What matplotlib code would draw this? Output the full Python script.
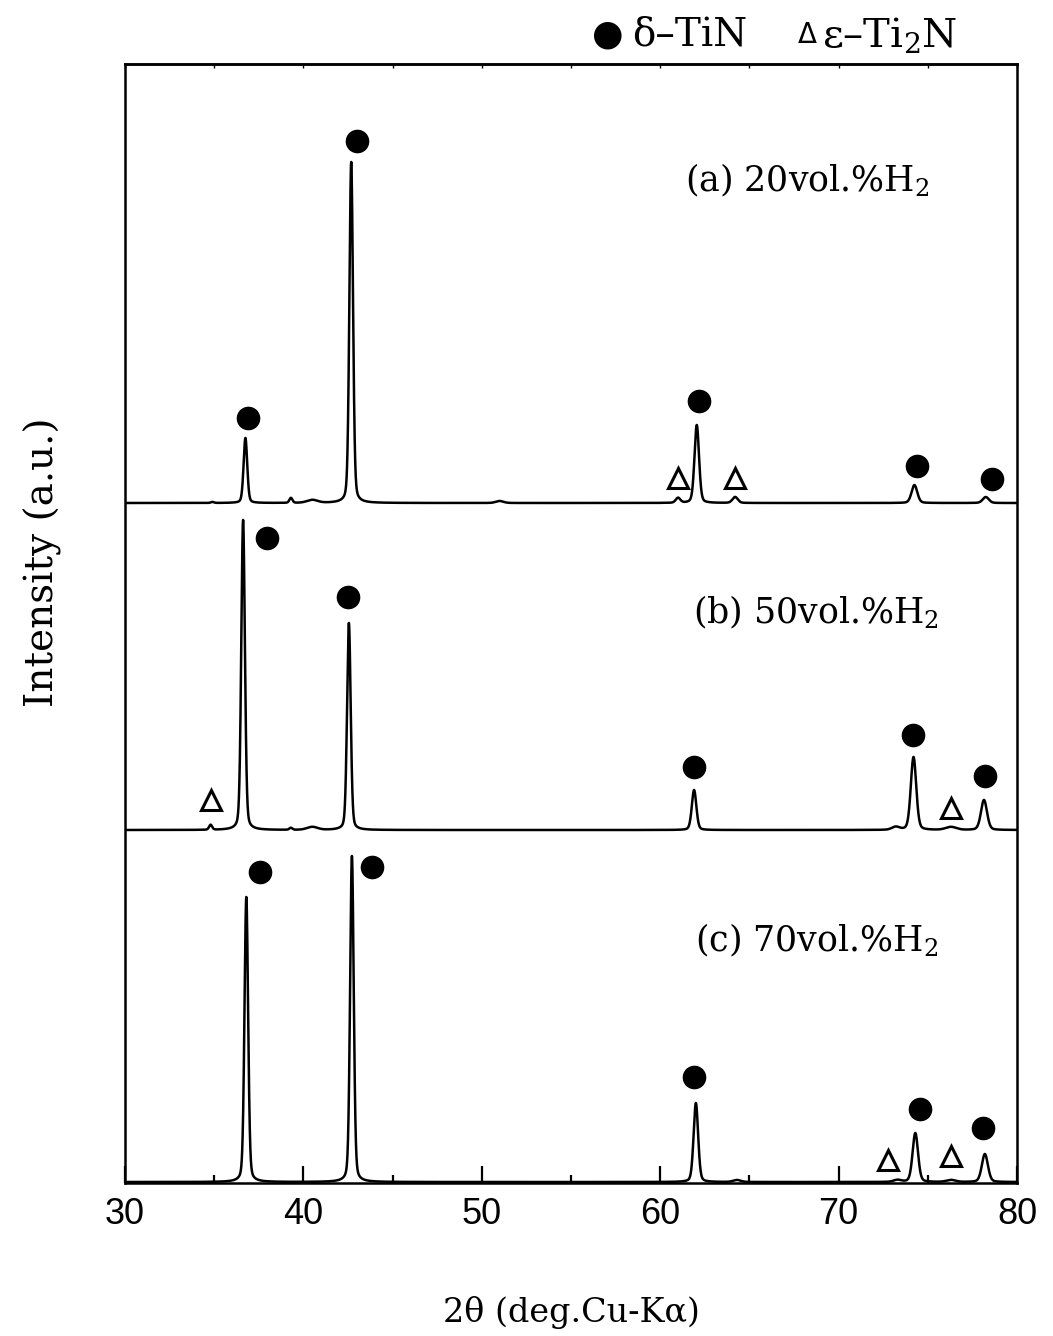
import numpy as np
import matplotlib.pyplot as plt

# peak lists: 2theta position, height, FWHM (deg)
pos_a = [34.9, 36.75, 39.3, 40.5, 42.68, 51.0, 61.0, 62.05, 64.2, 74.25, 78.25]
hgt_a = [1, 65, 5, 3, 341, 2, 5, 78, 6, 18, 6]
fwhm_a = [0.2, 0.24, 0.2, 0.7, 0.24, 0.5, 0.3, 0.3, 0.35, 0.38, 0.4]

pos_b = [34.8, 36.62, 39.3, 40.5, 42.55, 61.9, 73.2, 74.2, 76.3, 78.15]
hgt_b = [5, 310, 2, 3, 207, 40, 3, 73, 3, 30]
fwhm_b = [0.2, 0.24, 0.2, 0.7, 0.24, 0.3, 0.5, 0.36, 0.7, 0.4]

pos_c = [36.8, 42.72, 62.0, 64.3, 73.3, 74.3, 76.3, 78.2]
hgt_c = [285, 326, 79, 2, 2, 49, 2, 28]
fwhm_c = [0.24, 0.24, 0.3, 0.5, 0.5, 0.36, 0.6, 0.4]

offsets = [680, 353, 1]

# phase markers (x, y) for each phase
tin_x = [36.9, 43.0, 62.2, 74.4, 78.6, 37.96, 42.5, 61.9, 74.17, 78.2, 37.57, 43.85, 61.9, 74.56, 78.1]
tin_y = [765, 1042, 782, 717, 704, 645, 586, 416, 448, 407, 311, 316, 106, 74, 55]
ti2n_x = [61.0, 64.2, 34.82, 76.3, 72.77, 76.3]
ti2n_y = [705, 705, 383, 375, 23, 27]

labels = [r'(a) 20vol.%H$_2$', r'(b) 50vol.%H$_2$', r'(c) 70vol.%H$_2$']
label_xy = [(61.4, 1003), (61.85, 571), (61.95, 243)]

plt.rcParams['mathtext.fontset'] = 'dejavuserif'


def profile(x, pos, hgt, fwhm):
    y = np.zeros_like(x)
    for p, h, w in zip(pos, hgt, fwhm):
        g = np.exp(-4 * np.log(2) * ((x - p) / w) ** 2)
        lo = 1 / (1 + 4 * ((x - p) / w) ** 2)
        y += h * (0.75 * g + 0.25 * lo)
    return y


x = np.linspace(30, 80, 10001)

fig = plt.figure(figsize=(10.53, 13.36), dpi=100)
ax = fig.add_axes([0.1187, 0.1145, 0.8471, 0.8376])

for (p, h, w), off in zip([(pos_a, hgt_a, fwhm_a), (pos_b, hgt_b, fwhm_b), (pos_c, hgt_c, fwhm_c)], offsets):
    ax.plot(x, profile(x, p, h, w) + off, color='black', lw=1.8)

ax.plot(tin_x, tin_y, 'o', color='black', ms=16, ls='none')
ax.plot(ti2n_x, ti2n_y, '^', mfc='white', mec='black', mew=2.2, ms=14, ls='none')

for s, (lx, ly) in zip(labels, label_xy):
    ax.text(lx, ly, s, fontsize=25, family='DejaVu Serif', va='center', ha='left')

ax.set_xlim(30, 80)
ax.set_ylim(0, 1119)
ax.set_yticks([])
ax.set_xticks(np.arange(30, 81, 10))
ax.set_xticks(np.arange(35, 80, 10), minor=True)
ax.tick_params(axis='x', which='major', direction='in', length=12, width=1.6, labelsize=26, pad=10)
ax.tick_params(axis='x', which='minor', direction='in', length=6, width=1.6)
for lab in ax.get_xticklabels():
    lab.set_family('Liberation Sans')
for sp in ax.spines.values():
    sp.set_linewidth(1.8)

# short ticks along the top edge
top = ax.secondary_xaxis('top')
top.set_xticks(np.arange(30, 81, 5))
top.tick_params(direction='in', length=3, width=1.0, labelsize=0, labeltop=False)
top.spines['top'].set_linewidth(1.8)

ax.set_ylabel('Intensity (a.u.)', fontsize=28, family='DejaVu Serif')
ax.yaxis.set_label_coords(-0.071, 0.555)
ax.set_xlabel('2\u03b8 (deg.Cu-K\u03b1)', fontsize=24, family='DejaVu Serif', labelpad=46)

# legend line at the top
fig.text(0.577, 0.974, '\u25CF', fontsize=26, va='center', ha='center')
fig.text(0.600, 0.974, '\u03B4\u2013TiN', fontsize=28, family='DejaVu Serif', va='center')
fig.text(0.767, 0.974, '\u0394', fontsize=20, family='DejaVu Sans', va='center', ha='center')
fig.text(0.781, 0.974, '\u03b5\u2013Ti$_2$N', fontsize=29, family='DejaVu Serif', va='center')

fig.savefig('out.png', dpi=100)
